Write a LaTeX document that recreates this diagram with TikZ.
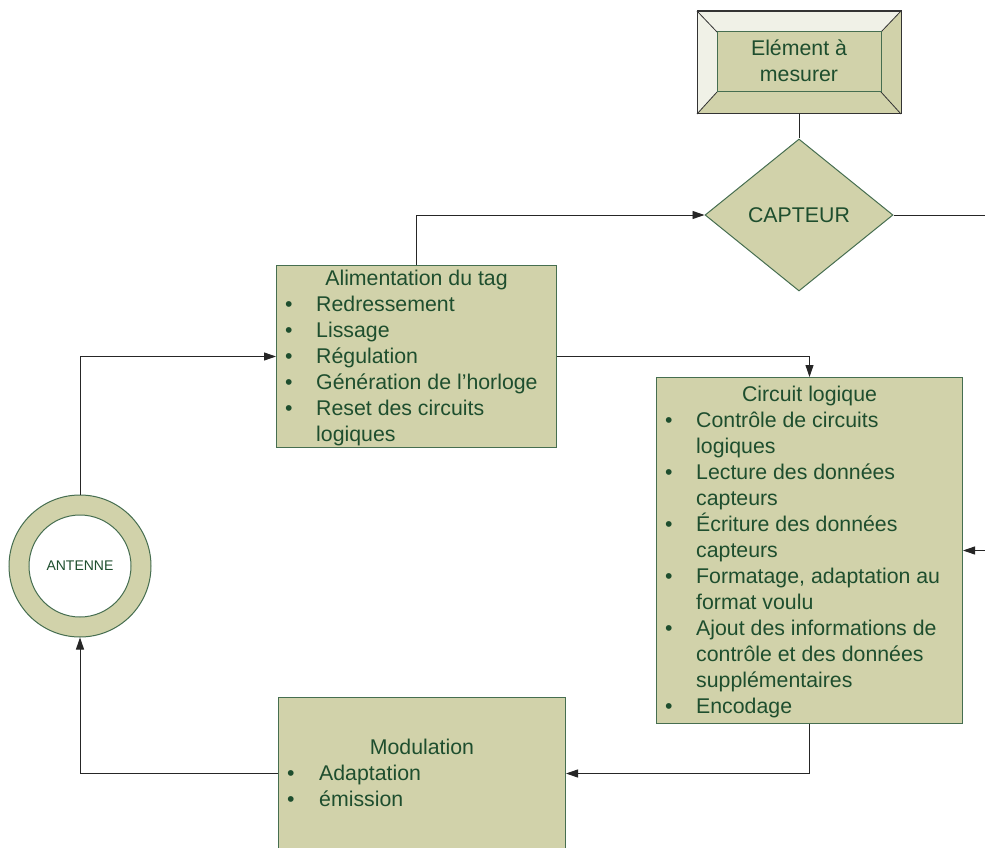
\documentclass[tikz,border=0pt]{standalone}
\usepackage{fontspec}
\setmainfont{Liberation Sans}
\usetikzlibrary{arrows.meta,shapes.geometric}

\definecolor{khaki}{RGB}{209,210,170}
\definecolor{khakilight}{RGB}{240,241,231}
\definecolor{leaf}{RGB}{30,78,46}
\definecolor{rim}{RGB}{70,110,80}

\begin{document}
\begin{tikzpicture}[x=1pt,y=-1pt,
  font=\fontsize{21.3}{26}\selectfont,
  block/.style={draw=rim,fill=khaki,line width=1pt,anchor=north west,inner sep=0pt},
  txt/.style={text=leaf,inner sep=0pt},
  link/.style={draw=black!85,line width=0.9pt},
  tip/.style={-{Triangle[length=12pt,width=8pt]}}]
  \clip (0,0) rectangle (985,848);

  % element a mesurer, bevelled frame
  \node[block,draw=black!80,fill=khakilight,minimum width=203pt,minimum height=102pt] (elem) at (697,11) {};
  \path[fill=khaki] (elem.north east) -- (elem.south east) -- (881,92) -- (881,32) -- cycle;
  \path[fill=khaki] (elem.south west) -- (elem.south east) -- (881,92) -- (717,92) -- cycle;
  \path[draw=black!80,line width=0.8pt] (elem.north west) -- (717,32) (elem.north east) -- (881,32)
    (elem.south west) -- (717,92) (elem.south east) -- (881,92);
  \path[draw=black!80,line width=1pt] (elem.north west) rectangle (elem.south east);
  \path[draw=rim,fill=khaki,line width=1pt] (717,32) rectangle (881,92);
  \node[txt,anchor=base] (elemT) at (799,56) {\begin{tabular}[t]{@{}c@{}}Elément à\\mesurer\end{tabular}};

  \node[diamond,draw=rim,fill=khaki,line width=1pt,minimum width=188pt,minimum height=152pt,inner sep=0pt,text=leaf] (capt) at (799,215) {CAPTEUR};

  \node[block,minimum width=280pt,minimum height=182pt] (alim) at (276,265) {};
  \node[txt,anchor=base] (alimT) at (alim.north |- 0,285) {Alimentation du tag};
  \node[txt,anchor=base west] (alimL) at (285,311) {\begin{tabular}[t]{@{}p{31pt}@{}l@{}}
    \textbullet & Redressement\\
    \textbullet & Lissage\\
    \textbullet & Régulation\\
    \textbullet & Génération de l’horloge\\
    \textbullet & Reset des circuits\\
                & logiques
  \end{tabular}};

  \node[block,minimum width=306pt,minimum height=346pt] (circ) at (656,377) {};
  \node[txt,anchor=base] (circT) at (circ.north |- 0,401) {Circuit logique};
  \node[txt,anchor=base west] (circL) at (665,427) {\begin{tabular}[t]{@{}p{31pt}@{}l@{}}
    \textbullet & Contrôle de circuits\\
                & logiques\\
    \textbullet & Lecture des données\\
                & capteurs\\
    \textbullet & Écriture des données\\
                & capteurs\\
    \textbullet & Formatage, adaptation au\\
                & format voulu\\
    \textbullet & Ajout des informations de\\
                & contrôle et des données\\
                & supplémentaires\\
    \textbullet & Encodage
  \end{tabular}};

  \node[block,minimum width=287pt,minimum height=152pt] (modu) at (278,697) {};
  \node[txt,anchor=base] (moduT) at (modu.north |- 0,754) {Modulation};
  \node[txt,anchor=base west] (moduL) at (287,780) {\begin{tabular}[t]{@{}p{32pt}@{}l@{}}
    \textbullet & Adaptation\\
    \textbullet & émission
  \end{tabular}};

  % antenna ring
  \node[circle,draw=rim,fill=khaki,line width=1pt,minimum size=142pt,inner sep=0pt] (ant) at (80,566) {};
  \node[circle,draw=rim,fill=white,line width=1pt,minimum size=102pt,inner sep=0pt,text=leaf,
    font=\fontsize{14}{16}\selectfont] (antIn) at (ant.center) {ANTENNE};

  \path[link] (elem.south) -- (capt.north);
  \path[link,tip] (alim.north) |- (capt.west);
  \path[link,tip] (capt.east) -- ++(103,0) |- (circ.east);
  \path[link,tip] (alim.east) -| (circ.north);
  \path[link,tip] (circ.south) |- (modu.east);
  \path[link,tip] (modu.west) -| (ant.south);
  \path[link,tip] (ant.north) |- (alim.west);
\end{tikzpicture}
\end{document}
